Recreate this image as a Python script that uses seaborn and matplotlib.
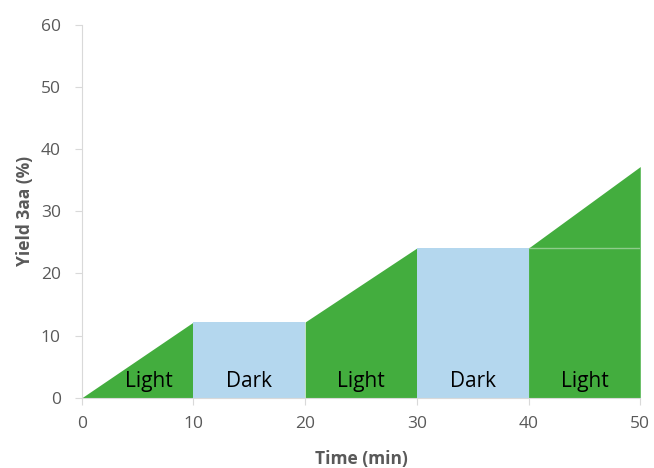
import numpy as np
import matplotlib
matplotlib.use("Agg")
import matplotlib.pyplot as plt
import seaborn as sns

# data
time = [0, 10, 20, 30, 40, 50]
yield_3aa = [0, 12.2, 12.2, 24.1, 24.1, 37.2]
phases = ["Light", "Dark", "Light", "Dark", "Light"]

green = "#43ad3e"
blue = "#b4d7ee"
gray = "#595959"

sns.set_style("white")
plt.rcParams["font.family"] = ["Open Sans", "DejaVu Sans"]

fig = plt.figure(figsize=(6.54, 4.68), dpi=100)
ax = fig.add_axes([0.125, 0.150, 0.854, 0.797])

for i, phase in enumerate(phases):
    xs = time[i:i + 2]
    ys = yield_3aa[i:i + 2]
    color = green if phase == "Light" else blue
    ax.fill_between(xs, 0, ys, color=color, linewidth=0)
    ax.text(np.mean(xs) + (1.0 if i == 0 else 0), 2.6, phase, ha="center",
            va="center", fontsize=15, color="black")

# faint line at the last dark level, inside the last light segment
ax.plot(time[4:6], [yield_3aa[4]] * 2, color="#8fcc8b", linewidth=1)

ax.set_xlim(0, 50)
ax.set_ylim(0, 60)
ax.set_xticks(range(0, 51, 10))
ax.set_yticks(range(0, 61, 10))
ax.tick_params(axis="both", colors=gray, labelsize=12.5, length=5, width=0.8,
               color="#d9d9d9", bottom=True, left=True)
ax.tick_params(axis="x", pad=8)
ax.tick_params(axis="y", pad=10)
for side in ["top", "right"]:
    ax.spines[side].set_visible(False)
for side in ["left", "bottom"]:
    ax.spines[side].set_color("#d9d9d9")
    ax.spines[side].set_linewidth(0.8)

ax.set_xlabel("Time (min)", fontsize=12.5, fontweight="bold", color=gray, labelpad=13)
ax.set_ylabel("Yield 3aa (%)", fontsize=12.5, fontweight="bold", color=gray, labelpad=5)

fig.savefig("out.png", dpi=100)
